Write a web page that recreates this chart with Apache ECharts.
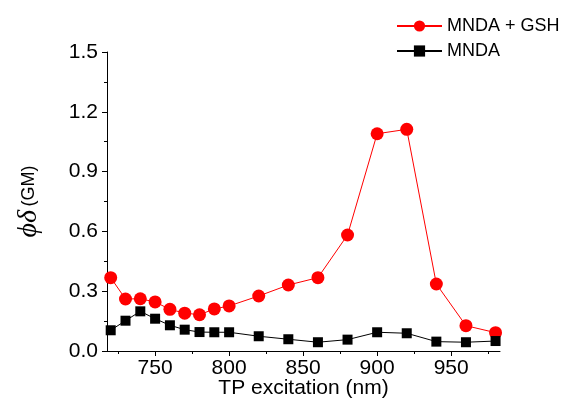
<!DOCTYPE html>
<html>
<head>
<meta charset="utf-8">
<script src="https://cdn.jsdelivr.net/npm/echarts@6/dist/echarts.min.js"></script>
<style>
html,body{margin:0;padding:0;background:#fff;}
#chart{width:572px;height:401px;}
</style>
</head>
<body>
<div id="chart"></div>
<script>
var wavelengths = [720,730,740,750,760,770,780,790,800,820,840,860,880,900,920,940,960,980];
var mndaGsh = [0.368,0.261,0.262,0.246,0.209,0.190,0.182,0.211,0.226,0.276,0.331,0.368,0.582,1.090,1.112,0.336,0.127,0.092];
var mnda = [0.104,0.152,0.199,0.162,0.129,0.107,0.095,0.094,0.094,0.074,0.059,0.044,0.057,0.094,0.089,0.047,0.044,0.050];
var xMajorTicks = [750,800,850,900,950];
var xMinorTicks = [725,775,825,875,925,975];
var seriesNames = ['MNDA + GSH','MNDA'];

function pairs(xs, ys){ return xs.map(function(x,i){ return [x, ys[i]]; }); }

var font = 'Liberation Sans, Arial, sans-serif';
var chart = echarts.init(document.getElementById('chart'), null, {renderer:'canvas'});
chart.setOption({
  animation:false,
  backgroundColor:'#fff',
  grid:{left:107, top:52, right:72, bottom:50, containLabel:false, outerBoundsMode:'none'},
  legend:{
    orient:'vertical', left:391, top:12, itemWidth:45, itemHeight:14, itemGap:7,
    textStyle:{fontFamily:font, fontSize:18, color:'#000'},
    data:seriesNames
  },
  xAxis:[{
    type:'value', min:717.5, max:983,
    name:'TP excitation (nm)', nameLocation:'middle', nameGap:27, nameMoveOverlap:false,
    nameTextStyle:{fontFamily:font, fontSize:21, color:'#000'},
    axisLine:{show:true, lineStyle:{color:'#000', width:1}},
    axisTick:{show:true, inside:false, length:5, customValues:xMajorTicks, lineStyle:{color:'#000'}},
    axisLabel:{show:true, customValues:xMajorTicks, margin:7, fontFamily:font, fontSize:21, color:'#000'},
    splitLine:{show:false}
  },{
    type:'value', min:717.5, max:983, position:'bottom', offset:0,
    axisLine:{show:false},
    axisTick:{show:true, inside:false, length:3, customValues:xMinorTicks, lineStyle:{color:'#000'}},
    axisLabel:{show:false, customValues:xMinorTicks},
    splitLine:{show:false}
  }],
  yAxis:{
    type:'value', min:0, max:1.5, interval:0.3,
    name:'{a|\u03D5\u03B4} {b|(GM)}', nameLocation:'middle', nameGap:64, nameRotate:90, nameMoveOverlap:false,
    nameTextStyle:{
      rich:{
        a:{fontFamily:'Liberation Serif, DejaVu Serif, serif', fontStyle:'italic', fontSize:28, color:'#000'},
        b:{fontFamily:font, fontSize:18, color:'#000'}
      }
    },
    axisLine:{show:true, lineStyle:{color:'#000', width:1}},
    axisTick:{show:true, inside:false, length:5, lineStyle:{color:'#000'}},
    minorTick:{show:true, splitNumber:2, length:3, lineStyle:{color:'#000'}},
    axisLabel:{margin:9, fontFamily:font, fontSize:21, color:'#000', formatter:function(v){return v.toFixed(1);}},
    splitLine:{show:false}, minorSplitLine:{show:false}
  },
  series:[{
    name:seriesNames[0], type:'line', data:pairs(wavelengths, mndaGsh),
    symbol:'circle', symbolSize:13, color:'#ff0000',
    lineStyle:{color:'#ff0000', width:1}, itemStyle:{color:'#ff0000', borderWidth:0}
  },{
    name:seriesNames[1], type:'line', data:pairs(wavelengths, mnda),
    symbol:'rect', symbolSize:10, color:'#000',
    lineStyle:{color:'#000', width:1}, itemStyle:{color:'#000', borderWidth:0}
  }]
});
</script>
</body>
</html>
